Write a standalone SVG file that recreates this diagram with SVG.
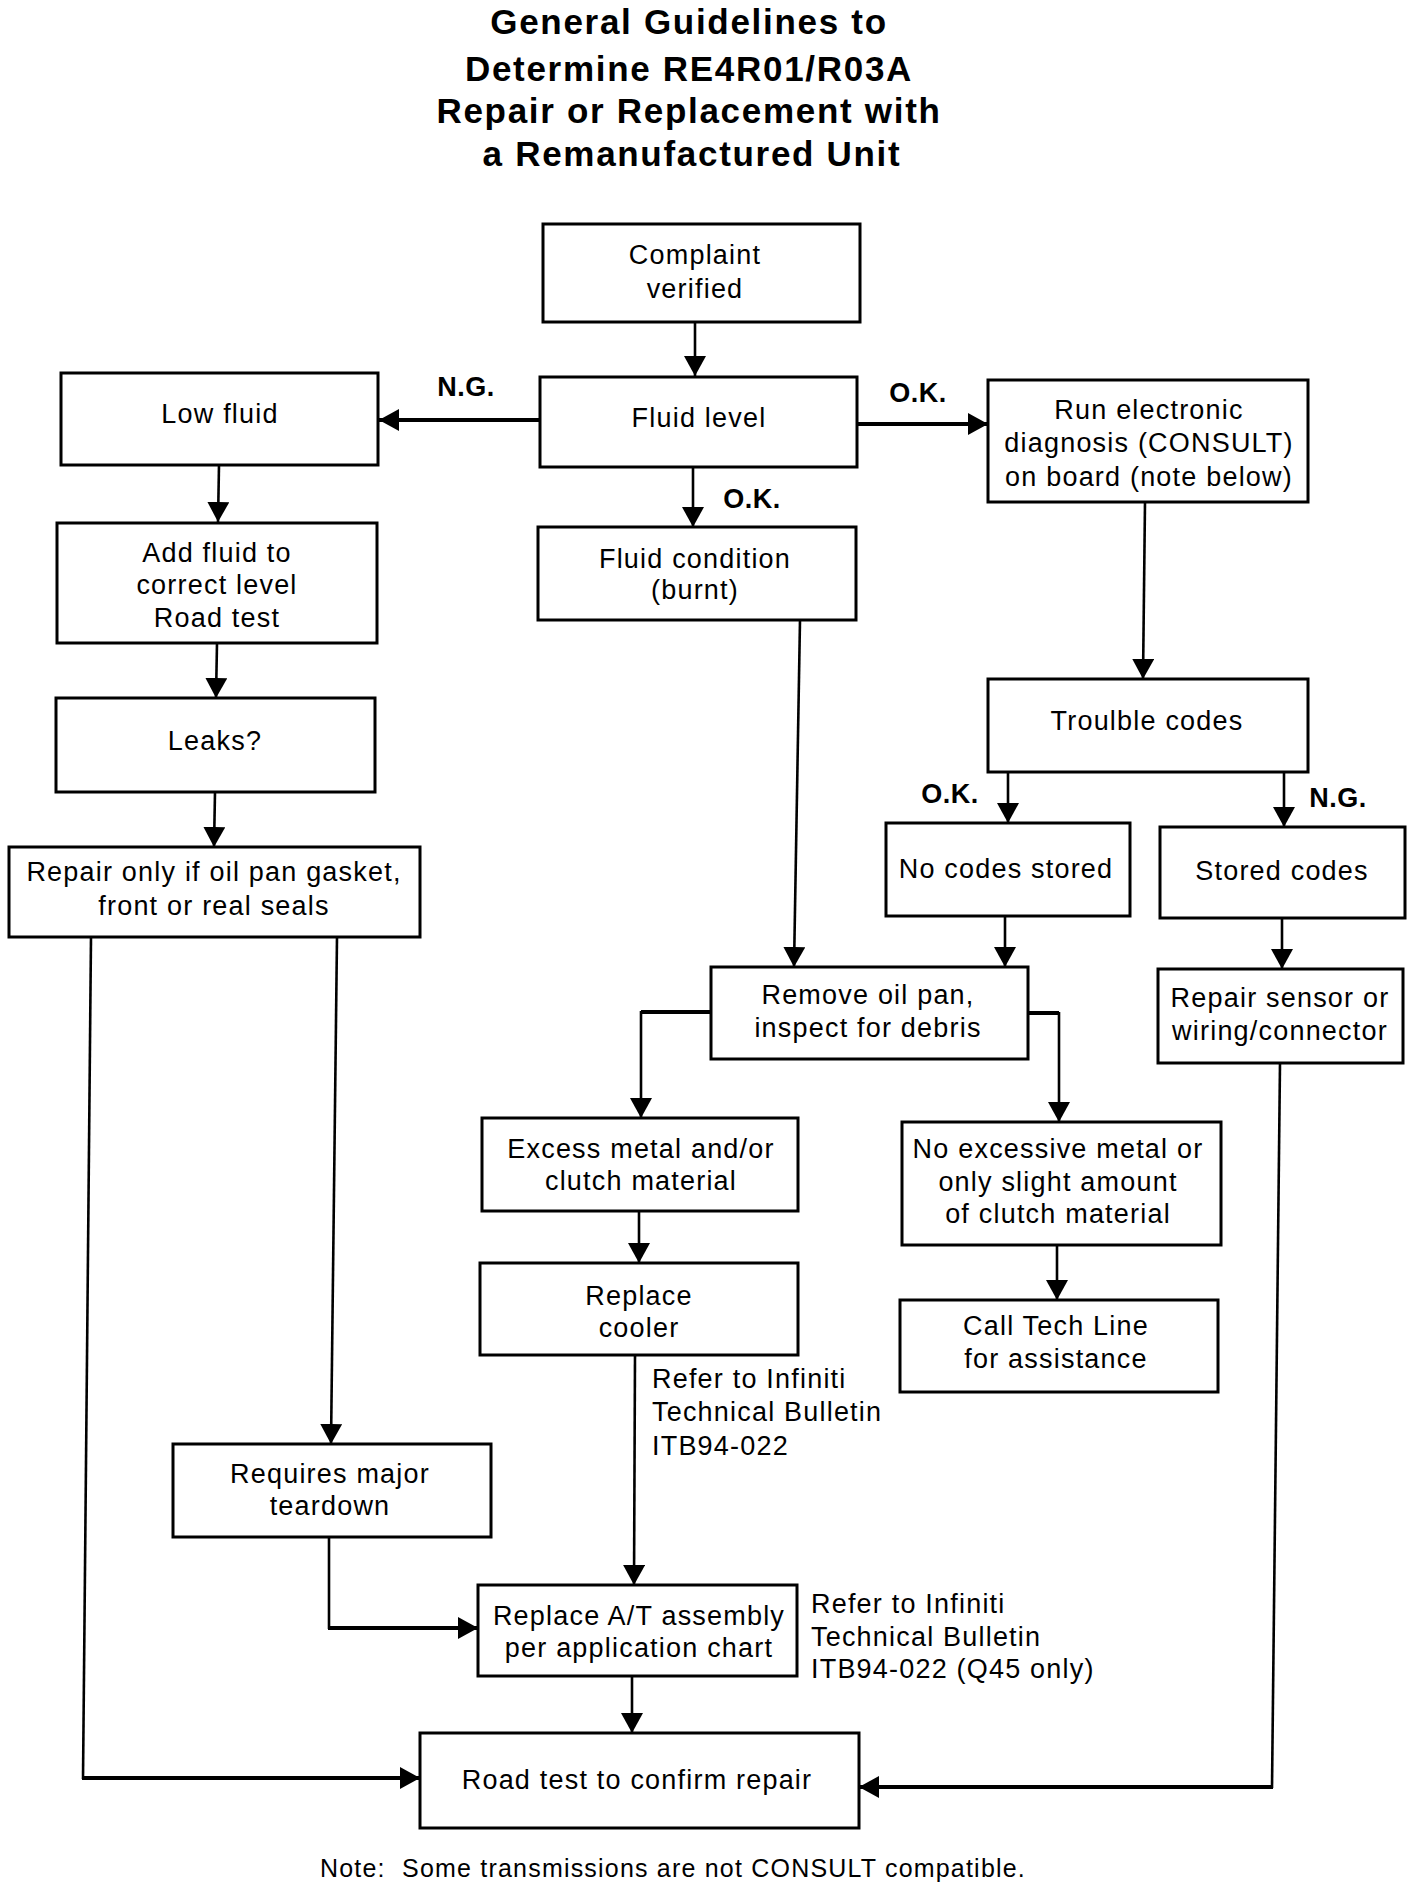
<svg xmlns="http://www.w3.org/2000/svg" width="1424" height="1894" viewBox="0 0 1424 1894">
<style>
.box{fill:#fff;stroke:#000;stroke-width:3}
.t{font-family:"Liberation Sans",Arial,sans-serif;font-size:27px;letter-spacing:1.2px;fill:#000;text-anchor:middle}
.tl{font-family:"Liberation Sans",Arial,sans-serif;font-size:27px;letter-spacing:1.2px;fill:#000;text-anchor:start}
.title{font-family:"Liberation Sans",Arial,sans-serif;font-size:35px;font-weight:bold;letter-spacing:1.7px;fill:#000;text-anchor:middle}
.lab{font-family:"Liberation Sans",Arial,sans-serif;font-size:27px;font-weight:bold;letter-spacing:0.5px;fill:#000;text-anchor:middle}
.note{font-family:"Liberation Sans",Arial,sans-serif;font-size:25px;letter-spacing:1.2px;fill:#000;text-anchor:middle}
.c{fill:none;stroke:#000;stroke-width:2.6}
.ck{fill:none;stroke:#000;stroke-width:4}
.a{marker-end:url(#arr)}
</style>
<defs>
<marker id="arr" markerUnits="userSpaceOnUse" markerWidth="22" markerHeight="24" refX="20" refY="11" orient="auto">
<path d="M0,0 L20,11 L0,22 z" fill="#000"/>
</marker>
</defs>
<rect width="1424" height="1894" fill="#fff"/>

<g id="title">
<text class="title" x="689" y="34">General Guidelines to</text>
<text class="title" x="689" y="81">Determine RE4R01/R03A</text>
<text class="title" x="689" y="123">Repair or Replacement with</text>
<text class="title" x="692" y="166">a Remanufactured Unit</text>
</g>

<g id="connectors">
<path class="c a" d="M695,322 L695,376"/>
<path class="ck a" d="M540,420 L379,420"/>
<path class="ck a" d="M857,424 L988,424"/>
<path class="c a" d="M693,467 L693,527"/>
<path class="c a" d="M219,465 L218,522"/>
<path class="c a" d="M217,643 L216,698"/>
<path class="c a" d="M215,792 L214,847"/>
<path class="c a" d="M1145,502 L1143,679"/>
<path class="c a" d="M800,620 L794,967"/>
<path class="c a" d="M1008,772 L1008,823"/>
<path class="c a" d="M1284,772 L1284,827"/>
<path class="c a" d="M1005,916 L1005,967"/>
<path class="c a" d="M1282,918 L1282,969"/>
<path class="ck" d="M711,1012 L641,1012"/>
<path class="c a" d="M641,1011 L641,1118"/>
<path class="ck" d="M1028,1013 L1059,1013"/>
<path class="c a" d="M1059,1012 L1059,1122"/>
<path class="c a" d="M639,1211 L639,1263"/>
<path class="c a" d="M1057,1245 L1057,1300"/>
<path class="c a" d="M635,1355 L634,1585"/>
<path class="c a" d="M337,937 L331,1444"/>
<path class="c" d="M91,937 L83,1779"/>
<path class="ck a" d="M82,1778 L420,1778"/>
<path class="c" d="M329,1537 L329,1629"/>
<path class="ck a" d="M328,1628 L478,1628"/>
<path class="c a" d="M632,1676 L632,1733"/>
<path class="c" d="M1280,1063 L1272,1788"/>
<path class="ck a" d="M1273,1787 L859,1787"/>
</g>

<g id="labels">
<text class="lab" x="466" y="396">N.G.</text>
<text class="lab" x="918" y="402">O.K.</text>
<text class="lab" x="752" y="508">O.K.</text>
<text class="lab" x="950" y="803">O.K.</text>
<text class="lab" x="1338" y="807">N.G.</text>
</g>

<g id="n-complaint">
<rect class="box" x="543" y="224" width="317" height="98"/>
<text class="t" x="695" y="264">Complaint</text>
<text class="t" x="695" y="298">verified</text>
</g>
<g id="n-fluidlevel">
<rect class="box" x="540" y="377" width="317" height="90"/>
<text class="t" x="699" y="427">Fluid level</text>
</g>
<g id="n-lowfluid">
<rect class="box" x="61" y="373" width="317" height="92"/>
<text class="t" x="220" y="423">Low fluid</text>
</g>
<g id="n-run">
<rect class="box" x="988" y="380" width="320" height="122"/>
<text class="t" x="1149" y="419">Run electronic</text>
<text class="t" x="1149" y="452">diagnosis (CONSULT)</text>
<text class="t" x="1149" y="486">on board (note below)</text>
</g>
<g id="n-addfluid">
<rect class="box" x="57" y="523" width="320" height="120"/>
<text class="t" x="217" y="562">Add fluid to</text>
<text class="t" x="217" y="594">correct level</text>
<text class="t" x="217" y="627">Road test</text>
</g>
<g id="n-fluidcond">
<rect class="box" x="538" y="527" width="318" height="93"/>
<text class="t" x="695" y="568">Fluid condition</text>
<text class="t" x="695" y="599">(burnt)</text>
</g>
<g id="n-leaks">
<rect class="box" x="56" y="698" width="319" height="94"/>
<text class="t" x="215" y="750">Leaks?</text>
</g>
<g id="n-trouble">
<rect class="box" x="988" y="679" width="320" height="93"/>
<text class="t" x="1147" y="730">Troulble codes</text>
</g>
<g id="n-repaironly">
<rect class="box" x="9" y="847" width="411" height="90"/>
<text class="t" x="214" y="881">Repair only if oil pan gasket,</text>
<text class="t" x="214" y="915">front or real seals</text>
</g>
<g id="n-nocodes">
<rect class="box" x="886" y="823" width="244" height="93"/>
<text class="t" x="1006" y="878">No codes stored</text>
</g>
<g id="n-stored">
<rect class="box" x="1160" y="827" width="245" height="91"/>
<text class="t" x="1282" y="880">Stored codes</text>
</g>
<g id="n-removepan">
<rect class="box" x="711" y="967" width="317" height="92"/>
<text class="t" x="868" y="1004">Remove oil pan,</text>
<text class="t" x="868" y="1037">inspect for debris</text>
</g>
<g id="n-repairsensor">
<rect class="box" x="1158" y="969" width="245" height="94"/>
<text class="t" x="1280" y="1007">Repair sensor or</text>
<text class="t" x="1280" y="1040">wiring/connector</text>
</g>
<g id="n-excess">
<rect class="box" x="482" y="1118" width="316" height="93"/>
<text class="t" x="641" y="1158">Excess metal and/or</text>
<text class="t" x="641" y="1190">clutch material</text>
</g>
<g id="n-noexcess">
<rect class="box" x="902" y="1122" width="319" height="123"/>
<text class="t" x="1058" y="1158">No excessive metal or</text>
<text class="t" x="1058" y="1191">only slight amount</text>
<text class="t" x="1058" y="1223">of clutch material</text>
</g>
<g id="n-cooler">
<rect class="box" x="480" y="1263" width="318" height="92"/>
<text class="t" x="639" y="1305">Replace</text>
<text class="t" x="639" y="1337">cooler</text>
</g>
<g id="n-techline">
<rect class="box" x="900" y="1300" width="318" height="92"/>
<text class="t" x="1056" y="1335">Call Tech Line</text>
<text class="t" x="1056" y="1368">for assistance</text>
</g>
<g id="note-itb1">
<text class="tl" x="652" y="1388">Refer to Infiniti</text>
<text class="tl" x="652" y="1421">Technical Bulletin</text>
<text class="tl" x="652" y="1455">ITB94-022</text>
</g>
<g id="n-teardown">
<rect class="box" x="173" y="1444" width="318" height="93"/>
<text class="t" x="330" y="1483">Requires major</text>
<text class="t" x="330" y="1515">teardown</text>
</g>
<g id="n-replaceat">
<rect class="box" x="478" y="1585" width="319" height="91"/>
<text class="t" x="639" y="1625">Replace A/T assembly</text>
<text class="t" x="639" y="1657">per application chart</text>
</g>
<g id="note-itb2">
<text class="tl" x="811" y="1613">Refer to Infiniti</text>
<text class="tl" x="811" y="1646">Technical Bulletin</text>
<text class="tl" x="811" y="1678">ITB94-022 (Q45 only)</text>
</g>
<g id="n-roadtest">
<rect class="box" x="420" y="1733" width="439" height="95"/>
<text class="t" x="637" y="1789">Road test to confirm repair</text>
</g>
<g id="footnote">
<text class="note" x="673" y="1877" xml:space="preserve">Note:  Some transmissions are not CONSULT compatible.</text>
</g>
</svg>
